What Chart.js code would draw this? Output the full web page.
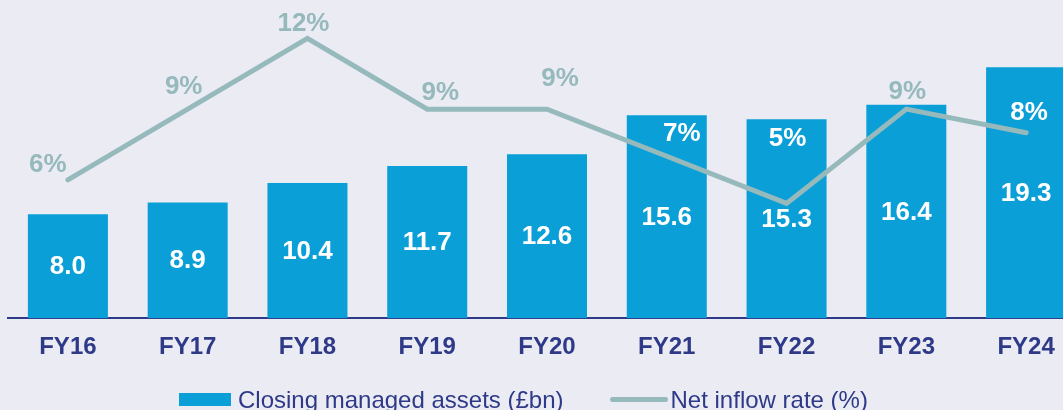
<!DOCTYPE html>
<html>
<head>
<meta charset="utf-8">
<script src="https://cdn.jsdelivr.net/npm/chart.js@4"></script>
<style>
  html, body { margin: 0; padding: 0; background: #ebebf4; overflow: hidden; width: 1063px; height: 410px; }
  #wrap { position: absolute; left: 0; top: 0; width: 1090px; height: 410px; }
  #legend { position: absolute; left: 179px; top: 384px; font-family: "Liberation Sans", Arial, sans-serif; font-size: 24px; color: #2e3a87; white-space: nowrap; line-height: 28px; }
  #legend span { display: inline-block; vertical-align: middle; }
  .box { width: 52px; height: 13px; background: #0b9fd8; margin-right: 7px; }
  .ln { width: 58px; height: 5px; border-radius: 3px; background: #96b9bb; margin-left: 46px; margin-right: 3px; }
</style>
</head>
<body>
<div id="wrap"><canvas id="canvas-1"></canvas></div>
<div id="legend"><span class="box"></span><span>Closing managed assets (£bn)</span><span class="ln"></span><span>Net inflow rate (%)</span></div>
<script>
  var years = ['FY16','FY17','FY18','FY19','FY20','FY21','FY22','FY23','FY24'];
  var assets = [8.0, 8.9, 10.4, 11.7, 12.6, 15.6, 15.3, 16.4, 19.3];
  var inflow = [6, 9, 12, 9, 9, 7, 5, 9, 8];

  var navy = '#2e3a87';
  var barBlue = '#0b9fd8';
  var lineGrey = '#96b9bb';
  var font = '"Liberation Sans", Arial, sans-serif';

  // where each % label sits relative to its point
  var pctOffsets = [[-20,-15],[-4,-22],[-4,-15],[13,-16],[13,-30],[15,-22],[1,-65],[1,-17],[3,-20]];

  var labelPlugin = {
    id: 'valueLabels',
    afterDatasetsDraw: function(chart) {
      var ctx = chart.ctx;
      var bars = chart.getDatasetMeta(0).data;
      var pts = chart.getDatasetMeta(1).data;
      ctx.save();
      ctx.font = 'bold 26px ' + font;
      ctx.textAlign = 'center';
      ctx.textBaseline = 'middle';
      ctx.fillStyle = '#ffffff';
      bars.forEach(function(b, i) {
        ctx.fillText(assets[i].toFixed(1), b.x, (b.y + b.base) / 2 + 1);
      });
      pts.forEach(function(p, i) {
        var lx = p.x + pctOffsets[i][0];
        var ly = p.y + pctOffsets[i][1];
        var b = bars[i];
        var inside = ly > b.y && lx > b.x - b.width / 2 && lx < b.x + b.width / 2;
        ctx.fillStyle = inside ? '#ffffff' : lineGrey;
        ctx.fillText(inflow[i] + '%', lx, ly);
      });
      ctx.restore();
    }
  };

  var ctx = document.getElementById('canvas-1');
  var chart = new Chart(ctx, {
    type: 'bar',
    data: {
      labels: years,
      datasets: [
        {
          label: 'Closing managed assets (£bn)',
          data: assets,
          backgroundColor: barBlue,
          categoryPercentage: 1,
          barPercentage: 0.668,
          yAxisID: 'y',
          order: 2
        },
        {
          type: 'line',
          label: 'Net inflow rate (%)',
          data: inflow,
          borderColor: lineGrey,
          borderWidth: 5,
          borderCapStyle: 'round',
          pointRadius: 0,
          tension: 0,
          yAxisID: 'y1',
          order: 1
        }
      ]
    },
    options: {
      responsive: true,
      maintainAspectRatio: false,
      animation: false,
      layout: { padding: { left: 8, right: 4, top: 0, bottom: 33 } },
      plugins: { legend: { display: false }, tooltip: { enabled: false } },
      scales: {
        x: {
          grid: { display: false, drawTicks: false },
          border: { display: true, color: navy, width: 2 },
          ticks: { color: navy, padding: 15, font: { family: font, size: 24, weight: 'bold' } }
        },
        y: { display: false, min: 0, max: 24.46 },
        y1: { display: false, min: 0.13, max: 13.63 }
      }
    },
    plugins: [labelPlugin]
  });
</script>
</body>
</html>
